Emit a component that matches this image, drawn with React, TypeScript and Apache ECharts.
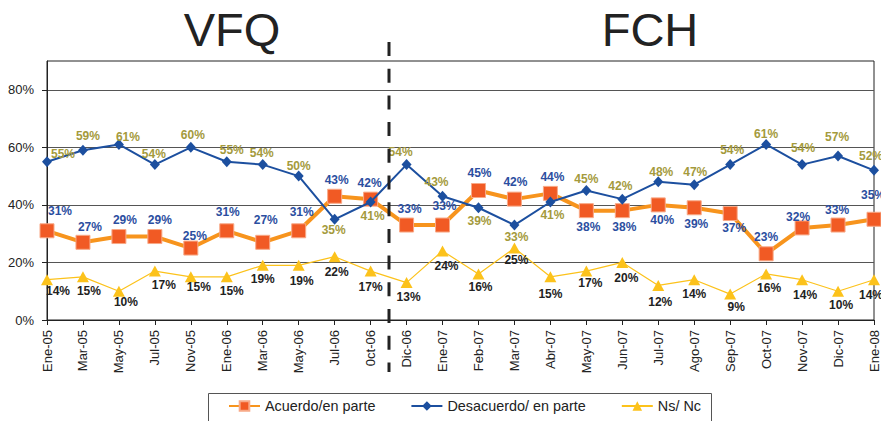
import React, { useEffect, useRef } from 'react';
import * as echarts from 'echarts';

const categories = [
  'Ene-05', 'Mar-05', 'May-05', 'Jul-05', 'Nov-05', 'Ene-06', 'Mar-06', 'May-06', 'Jul-06', '0ct-06',
  'Dic-06', 'Ene-07', 'Feb-07', 'Mar-07', 'Abr-07', 'May-07', 'Jun-07', 'Jul-07', 'Ago-07', 'Sep-07',
  'Oct-07', 'Nov-07', 'Dic-07', 'Ene-08',
];

const acuerdo = [31, 27, 29, 29, 25, 31, 27, 31, 43, 42, 33, 33, 45, 42, 44, 38, 38, 40, 39, 37, 23, 32, 33, 35];
const desacuerdo = [55, 59, 61, 54, 60, 55, 54, 50, 35, 41, 54, 43, 39, 33, 41, 45, 42, 48, 47, 54, 61, 54, 57, 52];
const nsnc = [14, 15, 10, 17, 15, 15, 19, 19, 22, 17, 13, 24, 16, 25, 15, 17, 20, 12, 14, 9, 16, 14, 10, 14];

const yTickValues = [0, 20, 40, 60, 80];
const sectionTitles = ['VFQ', 'FCH'];
const seriesNames = ['Acuerdo/en parte', 'Desacuerdo/ en parte', 'Ns/ Nc'];

// label offsets (style only) relative to each marker centre
const acuerdoLabelOffsets = [
  [13, -20], [7, -15], [6, -17], [5, -17], [4, -12], [1, -19], [3, -22], [3, -19], [2, -16], [-1, -16],
  [3, -16], [2, -19], [1, -18], [1, -17], [2, -16], [2, 16], [2, 16], [4, 15], [2, 16], [4, 14],
  [0, -17], [-4, -11], [-1, -15], [-1, -24],
];
const desacuerdoLabelOffsets = [
  [16, -8], [5, -14], [9, -7], [-1, -11], [2, -12], [5, -12], [-1, -12], [0, -10], [-1, 11], [2, 14],
  [-6, -13], [-6, -14], [1, 13], [2, 12], [2, 13], [0, -12], [-2, -13], [3, -10], [1, -13], [2, -15],
  [0, -10], [1, -17], [-1, -19], [-3, -14],
];
const nsncLabelOffsets = [
  [11, 11], [6, 14], [7, 11], [9, 14], [8, 10], [5, 14], [0, 14], [3, 16], [2, 15], [0, 16],
  [2, 14], [4, 15], [2, 13], [2, 12], [0, 17], [4, 12], [4, 16], [2, 17], [0, 14], [6, 13],
  [3, 14], [3, 15], [3, 14], [-3, 15],
];

const FONT = '"Liberation Sans", Arial, Helvetica, sans-serif';

function withLabels(values: number[], offsets: number[][], color: string) {
  return values.map((v, i) => ({
    value: v,
    label: {
      show: true,
      position: 'inside',
      offset: offsets[i],
      formatter: '{c}%',
      color,
      fontFamily: FONT,
      fontSize: 12,
      fontWeight: 'bold',
      align: 'center',
      verticalAlign: 'middle',
    },
  }));
}

export default function App() {
  const ref = useRef<HTMLDivElement>(null);

  useEffect(() => {
    if (!ref.current) return;
    const chart = echarts.init(ref.current, undefined, { renderer: 'svg' });
    const option: any = {
      animation: false,
      backgroundColor: '#ffffff',
      textStyle: { fontFamily: FONT },
      grid: {
        left: 47,
        right: 7,
        top: 61,
        bottom: 101,
        show: true,
        borderColor: '#222',
        borderWidth: 1,
        backgroundColor: 'transparent',
      },
      legend: {
        left: 228,
        top: 399,
        padding: 0,
        itemWidth: 31,
        itemHeight: 12,
        itemGap: 35,
        textStyle: { fontSize: 14.4, color: '#222', fontFamily: FONT },
        data: seriesNames,
      },
      xAxis: {
        type: 'category',
        data: categories,
        boundaryGap: false,
        axisLine: { lineStyle: { color: '#222', width: 1 } },
        axisTick: { show: true, length: 5, alignWithLabel: true, lineStyle: { color: '#222' } },
        axisLabel: {
          interval: 0,
          rotate: 90,
          margin: 10,
          fontSize: 13,
          color: '#222',
          fontFamily: FONT,
        },
        splitLine: { show: false },
      },
      yAxis: {
        type: 'value',
        min: 0,
        max: 90,
        interval: 10,
        axisLine: { show: true, lineStyle: { color: '#222', width: 1 } },
        axisTick: { show: true, length: 5, customValues: yTickValues, lineStyle: { color: '#222' } },
        axisLabel: {
          customValues: yTickValues,
          formatter: '{value}%',
          fontSize: 13,
          color: '#222',
          margin: 13,
          fontFamily: FONT,
        },
        splitLine: { show: true, lineStyle: { color: '#555', width: 1 } },
      },
      series: [
        {
          name: seriesNames[0],
          type: 'line',
          data: withLabels(acuerdo, acuerdoLabelOffsets, '#2b4ea0'),
          symbol: 'rect',
          symbolSize: 14,
          lineStyle: { color: '#f7941d', width: 4 },
          itemStyle: { color: '#f15a24', borderColor: '#f8a987', borderWidth: 1 },
          z: 2,
        },
        {
          name: seriesNames[1],
          type: 'line',
          data: withLabels(desacuerdo, desacuerdoLabelOffsets, '#a49a3c'),
          symbol: 'diamond',
          symbolSize: [10, 11],
          lineStyle: { color: '#1c4f9f', width: 2 },
          itemStyle: { color: '#1c4f9f' },
          z: 3,
        },
        {
          name: seriesNames[2],
          type: 'line',
          data: withLabels(nsnc, nsncLabelOffsets, '#222222'),
          symbol: 'triangle',
          symbolSize: [12, 11],
          lineStyle: { color: '#fcc21b', width: 1.2 },
          itemStyle: { color: '#fcc21b' },
          z: 4,
        },
      ],
    };
    chart.setOption(option);

    const xa = chart.convertToPixel({ xAxisIndex: 0 }, categories[9]) as number;
    const xb = chart.convertToPixel({ xAxisIndex: 0 }, categories[10]) as number;
    const sepX = Math.round((xa + xb) / 2);

    chart.setOption({
      graphic: [
        {
          type: 'line',
          shape: { x1: sepX, y1: 42, x2: sepX, y2: 372 },
          style: { stroke: '#222', lineWidth: 3, lineDash: [14, 12.7] },
          z: 10,
        },
        {
          type: 'text',
          x: 232,
          y: 29,
          style: {
            text: sectionTitles[0],
            font: `47px ${FONT}`,
            fill: '#222',
            align: 'center',
            verticalAlign: 'middle',
          },
        },
        {
          type: 'text',
          x: 650,
          y: 29,
          style: {
            text: sectionTitles[1],
            font: `47px ${FONT}`,
            fill: '#222',
            align: 'center',
            verticalAlign: 'middle',
          },
        },
        {
          type: 'rect',
          shape: { x: 208.5, y: 393.5, width: 503, height: 40 },
          style: { fill: 'none', stroke: '#555', lineWidth: 1 },
          z: -1,
        },
      ],
    });

    return () => chart.dispose();
  }, []);

  return (
    <div
      ref={ref}
      style={{ position: 'fixed', left: 0, top: 0, width: 881, height: 421, background: '#fff' }}
    />
  );
}
